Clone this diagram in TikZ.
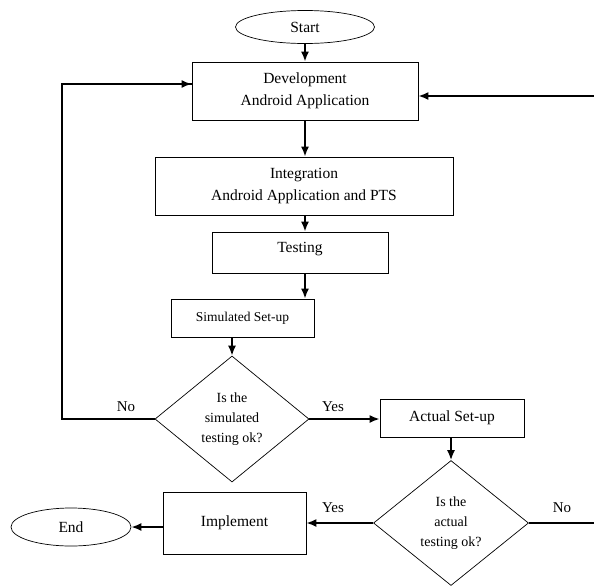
\documentclass[tikz,border=0pt]{standalone}
\usepackage{fontspec}
\setmainfont{Liberation Serif}
\usetikzlibrary{shapes.geometric,arrows.meta}
\tikzset{
  box/.style={draw, line width=0.8pt, align=center, inner sep=2pt, font=\fontsize{15.5}{22}\selectfont},
  terminal/.style={draw, ellipse, line width=0.7pt, inner sep=0pt, font=\fontsize{15.5}{18}\selectfont},
  decision/.style={draw, diamond, line width=0.7pt, inner sep=0pt, align=center, font=\fontsize{14}{20}\selectfont},
  flow/.style={line width=1.7pt, -{Latex[length=10pt,width=8pt]}},
  back/.style={line width=1.1pt},
  tag/.style={font=\fontsize{15}{18}\selectfont}
}
\begin{document}
\begin{tikzpicture}[x=1pt,y=-1pt]
    \useasboundingbox (0,0) rectangle (594,587);
    % boxes
    \node[terminal, minimum width=139pt, minimum height=33pt] (start) at (305,27) {Start};
    \node[box, minimum width=226pt, minimum height=58pt] (dev) at (305,91) {Development\\Android Application};
    \node[box, minimum width=298pt, minimum height=58pt] (integ) at (304,186) {Integration\\Android Application and PTS};
    \node[box, minimum width=176pt, minimum height=41pt, text depth=10pt] (test) at (300,252.5) {Testing};
    \node[box, minimum width=143pt, minimum height=38pt, font=\fontsize{13.5}{16}\selectfont] (sim) at (242.5,318) {Simulated Set-up};
    \node[decision, minimum width=154pt, minimum height=126pt] (simok) at (232,419) {Is the\\simulated\\testing ok?};
    \node[box, minimum width=144pt, minimum height=38pt] (actual) at (452,418) {Actual Set-up};
    \node[decision, minimum width=155pt, minimum height=125pt] (actok) at (451,523) {Is the\\actual\\testing ok?};
    \node[box, minimum width=143pt, minimum height=62pt] (impl) at (234.5,523) {Implement};
    \node[terminal, minimum width=120pt, minimum height=38pt] (end) at (71,527) {End};
    % free ends
    \coordinate (loopL) at (62,419);
    \coordinate (rightin) at (594,96);
    \coordinate (rightout) at (594,523);
    % connectors
    \draw[flow] (start) -- (dev);
    \draw[flow] (dev) -- (integ.north -| dev.south);
    \draw[flow] (integ.south -| dev.south) -- (test.north -| dev.south);
    \draw[flow] (test.south -| dev.south) -- (sim.north -| dev.south);
    \draw[flow] (sim.south -| simok.north) -- (simok.north);
    \draw[back] (simok.west) -- (loopL) |- ([yshift=7pt]dev.west);
    \draw[flow] ([yshift=7pt,xshift=-30pt]dev.west) -- ([yshift=7pt]dev.west);
    \draw[flow] (rightin) -- (rightin -| dev.east);
    \draw[flow] (simok.east) -- (actual.west |- simok.east);
    \draw[flow] (actual.south -| actok.north) -- (actok.north);
    \draw[back] (actok.east) -- (rightout);
    \draw[flow] (actok.west) -- (impl.east |- actok.west);
    \draw[flow] (impl.west |- end.east) -- (end.east);
    % labels
    \node[tag] (no1) at (126,407) {No};
    \node[tag] (yes1) at (333,407) {Yes};
    \node[tag] (yes2) at (333,508) {Yes};
    \node[tag] (no2) at (562,508) {No};
\end{tikzpicture}
\end{document}
